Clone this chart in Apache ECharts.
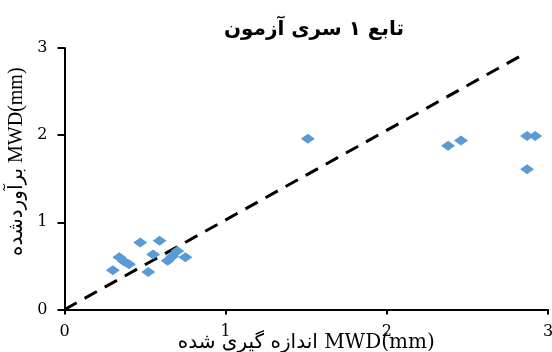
<!DOCTYPE html>
<html><head><meta charset="utf-8">
<script src="https://cdn.jsdelivr.net/npm/echarts@6/dist/echarts.min.js"></script>
<style>html,body{margin:0;padding:0;background:#fff}#c{width:552px;height:352px}</style>
</head><body><div id="c"></div>
<script>
var titleText = 'تابع ۱ سری آزمون';
var xName = 'اندازه گیری شده MWD(mm)';
var yName = 'برآوردشده MWD(mm)';
var xTicks = [0, 1, 2, 3];
var yTicks = [0, 1, 2, 3];
var measured = [0.30, 0.34, 0.37, 0.40, 0.47, 0.52, 0.55, 0.59, 0.64, 0.67, 0.70, 0.75, 1.51, 2.38, 2.46, 2.87, 2.92, 2.87];
var predicted = [0.45, 0.60, 0.55, 0.52, 0.77, 0.43, 0.63, 0.79, 0.56, 0.61, 0.67, 0.60, 1.96, 1.88, 1.94, 1.99, 1.99, 1.61];
var refLineX = [0, 2.86];
var refLineY = [0, 2.94];

var pts = measured.map(function (v, i) { return [v, predicted[i]]; });
var ref = refLineX.map(function (v, i) { return [v, refLineY[i]]; });
var serifWide = '"DejaVu Serif", "DejaVu Sans", serif';
var serif = '"Liberation Serif", "DejaVu Sans", serif';

var chart = echarts.init(document.getElementById('c'));
chart.setOption({
  animation: false,
  backgroundColor: '#fff',
  title: {
    text: titleText, left: 309, top: 15, textAlign: 'center',
    textStyle: { fontFamily: '"DejaVu Sans", sans-serif', fontSize: 20, fontWeight: 'bold', color: '#000' }
  },
  grid: { left: 64.5, right: 4, top: 48, bottom: 42.5, outerBoundsMode: 'none', containLabel: false },
  xAxis: {
    type: 'value', min: xTicks[0], max: xTicks[xTicks.length - 1], interval: 1,
    name: xName, nameLocation: 'middle', nameGap: 23, nameMoveOverlap: false,
    nameTextStyle: { fontFamily: serifWide, fontSize: 20, color: '#000' },
    axisLine: { lineStyle: { color: '#000', width: 2 } },
    axisTick: { show: true, length: 5, lineStyle: { color: '#000', width: 2 } },
    axisLabel: { fontFamily: serifWide, fontSize: 16, color: '#000', margin: 14 },
    splitLine: { show: false }
  },
  yAxis: {
    type: 'value', min: yTicks[0], max: yTicks[yTicks.length - 1], interval: 1,
    name: yName, nameLocation: 'middle', nameGap: 38, nameRotate: 90, nameMoveOverlap: false,
    nameTextStyle: { fontFamily: serif, fontSize: 20, color: '#000', padding: [0, 0, 0, 34] },
    axisLine: { show: true, lineStyle: { color: '#000', width: 2 } },
    axisTick: { show: true, length: 7, lineStyle: { color: '#000', width: 2 } },
    axisLabel: { fontFamily: serifWide, fontSize: 16, color: '#000', margin: 17 },
    splitLine: { show: false }
  },
  series: [
    {
      type: 'line', data: ref, symbol: 'none', silent: true,
      lineStyle: { color: '#000', width: 3, type: [14, 9] }, z: 1
    },
    {
      type: 'scatter', data: pts, symbol: 'diamond', symbolSize: [14, 10],
      itemStyle: { color: '#5B9BD5', opacity: 1 }, z: 2
    }
  ]
});
</script></body></html>
